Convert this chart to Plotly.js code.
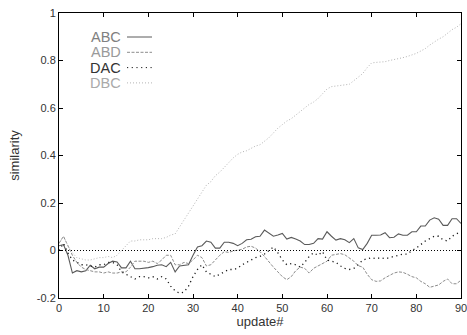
<!DOCTYPE html>
<html>
<head>
<meta charset="utf-8">
<script src="https://cdn.plot.ly/plotly-3.0.1.min.js"></script>
<style>html,body{margin:0;padding:0;background:#fff}#chart{width:467px;height:335px}</style>
</head>
<body>
<div id="chart"></div>
<script>
const updates = Array.from({length: 91}, (_, i) => i);
const seriesNames = ["ABC", "ABD", "DAC", "DBC"];
const ABC = [0.02,0.025,-0.02,-0.095,-0.085,-0.09,-0.085,-0.062,-0.077,-0.07,
  -0.07,-0.055,-0.045,-0.048,-0.073,-0.073,-0.045,-0.077,-0.077,-0.076,
  -0.072,-0.068,-0.062,-0.06,-0.068,-0.05,-0.09,-0.065,-0.064,-0.06,
  -0.02,0.015,0.02,0.04,0.035,0.01,0.01,0.035,0.035,0.03,
  0.02,0.03,0.045,0.047,0.058,0.06,0.086,0.072,0.06,0.065,
  0.072,0.048,0.055,0.048,0.04,0.025,0.025,0.03,0.05,0.048,
  0.079,0.06,0.044,0.05,0.045,0.033,0.05,0.011,0.004,0.03,
  0.064,0.064,0.065,0.075,0.054,0.056,0.07,0.064,0.064,0.079,
  0.079,0.103,0.103,0.128,0.138,0.132,0.106,0.106,0.134,0.134,0.114];
const ABD = [0.03,0.06,0.02,-0.02,-0.05,-0.07,-0.08,-0.085,-0.09,-0.09,
  -0.095,-0.09,-0.095,-0.095,-0.09,-0.09,-0.07,-0.045,-0.045,-0.045,
  -0.05,-0.045,-0.055,-0.04,-0.02,-0.02,-0.06,-0.06,-0.05,-0.055,
  -0.04,-0.02,-0.03,-0.065,-0.06,-0.04,-0.02,-0.005,-0.008,-0.002,
  0.0,0.005,0.015,0.018,0.01,-0.005,-0.025,-0.05,-0.07,-0.09,
  -0.11,-0.123,-0.11,-0.085,-0.07,-0.075,-0.095,-0.075,-0.065,-0.055,
  -0.045,-0.02,-0.015,-0.013,-0.018,-0.03,-0.045,-0.064,-0.07,-0.1,
  -0.123,-0.13,-0.128,-0.115,-0.105,-0.095,-0.09,-0.092,-0.1,-0.11,
  -0.115,-0.13,-0.14,-0.155,-0.15,-0.145,-0.13,-0.12,-0.14,-0.14,-0.125];
const DAC = [0.0,0.03,-0.01,-0.04,-0.05,-0.06,-0.06,-0.065,-0.07,-0.06,
  -0.06,-0.05,-0.05,-0.06,-0.09,-0.1,-0.11,-0.12,-0.11,-0.11,
  -0.115,-0.11,-0.12,-0.11,-0.12,-0.15,-0.17,-0.18,-0.175,-0.15,
  -0.11,-0.08,-0.06,-0.09,-0.1,-0.11,-0.1,-0.09,-0.08,-0.08,
  -0.075,-0.06,-0.05,-0.04,-0.03,-0.025,-0.015,0.0,0.015,-0.01,
  -0.04,-0.06,-0.055,-0.06,-0.07,-0.05,-0.025,-0.01,-0.02,-0.005,
  -0.04,-0.045,-0.05,-0.065,-0.075,-0.08,-0.075,-0.06,-0.04,-0.035,
  -0.03,-0.035,-0.03,-0.035,-0.03,-0.025,-0.02,-0.015,-0.015,0.0,
  0.01,0.025,0.04,0.05,0.06,0.06,0.045,0.04,0.06,0.07,0.08];
const DBC = [0.03,0.06,0.02,-0.01,-0.03,-0.035,-0.04,-0.04,-0.035,-0.03,
  -0.03,-0.025,-0.03,-0.02,0.0,0.02,0.04,0.04,0.045,0.045,
  0.045,0.05,0.05,0.05,0.055,0.065,0.07,0.10,0.13,0.16,
  0.19,0.22,0.25,0.275,0.29,0.315,0.33,0.35,0.37,0.39,
  0.405,0.415,0.42,0.43,0.44,0.445,0.46,0.475,0.495,0.515,
  0.53,0.545,0.555,0.57,0.585,0.6,0.615,0.625,0.64,0.66,
  0.68,0.69,0.692,0.695,0.698,0.70,0.715,0.73,0.745,0.77,
  0.79,0.792,0.792,0.795,0.80,0.803,0.808,0.812,0.817,0.822,
  0.83,0.84,0.85,0.865,0.878,0.89,0.90,0.915,0.93,0.94,0.955];
const xTickVals = [0,10,20,30,40,50,60,70,80,90];
const xTickText = ["0","10","20","30","40","50","60","70","80","90"];
const yTickVals = [-0.2,0,0.2,0.4,0.6,0.8,1];
const yTickText = ["-0.2","0","0.2","0.4","0.6","0.8","1"];

const seriesData = [ABC, ABD, DAC, DBC];
const lineColors = ["#5a5a5a", "#8c8c8c", "#1a1a1a", "#b4b4b4"];
const lineDash = ["solid", "3px,1.5px", "1.2px,3.5px", "1px,2px"];
const lineWidths = [1.1, 1, 1.3, 1];
const textColors = ["#808080", "#9a9a9a", "#333333", "#aaaaaa"];

const traces = seriesData.map((ys, i) => ({
  x: updates, y: ys, type: "scatter", mode: "lines", name: seriesNames[i],
  line: {color: lineColors[i], dash: lineDash[i], width: lineWidths[i]},
  showlegend: false, hoverinfo: "skip"
}));

const annotations = [];
const shapes = [{type: "line", xref: "paper", yref: "y", x0: 0, x1: 1, y0: 0, y1: 0,
  line: {color: "#000", width: 1, dash: "1px,2px"}}];
const legTop = 37, legStep = 15.3, plotH = 335 - 13 - 37, plotW = 467 - 59 - 6;
seriesNames.forEach((n, i) => {
  const py = legTop + i * legStep;
  const yp = 1 - (py - 13) / plotH;
  annotations.push({xref: "paper", yref: "paper", x: (123 - 59) / plotW, y: yp,
    xanchor: "right", yanchor: "middle", text: n, showarrow: false,
    font: {family: "Liberation Sans, Arial, sans-serif", size: 14.5, color: textColors[i]}});
  shapes.push({type: "line", xref: "paper", yref: "paper",
    x0: (127 - 59) / plotW, x1: (152 - 59) / plotW, y0: yp, y1: yp,
    line: {color: lineColors[i], dash: lineDash[i], width: 1}});
});

const axisFont = {family: "Liberation Sans, Arial, sans-serif", size: 11, color: "#333"};
const layout = {
  width: 467, height: 335,
  margin: {l: 59, r: 6, t: 13, b: 37, pad: 0},
  paper_bgcolor: "#fff", plot_bgcolor: "#fff",
  showlegend: false,
  xaxis: {range: [0, 90], tickvals: xTickVals, ticktext: xTickText,
    ticks: "inside", ticklen: 4, tickcolor: "#000", tickwidth: 1,
    showline: true, linecolor: "#000", linewidth: 1, mirror: "ticks",
    showgrid: false, zeroline: false, tickfont: axisFont, ticklabeloverflow: "allow",
    title: {text: "update#", font: {family: "Liberation Sans, Arial, sans-serif", size: 13, color: "#333"}, standoff: 2}},
  yaxis: {range: [-0.2, 1], tickvals: yTickVals, ticktext: yTickText,
    ticks: "inside", ticklen: 4, tickcolor: "#000", tickwidth: 1,
    showline: true, linecolor: "#000", linewidth: 1, mirror: "ticks",
    showgrid: false, zeroline: false, tickfont: axisFont, ticklabeloverflow: "allow",
    title: {text: "similarity", font: {family: "Liberation Sans, Arial, sans-serif", size: 13, color: "#333"}, standoff: 14}},
  annotations: annotations,
  shapes: shapes
};
Plotly.newPlot("chart", traces, layout, {staticPlot: true, displayModeBar: false});
</script>
</body>
</html>
